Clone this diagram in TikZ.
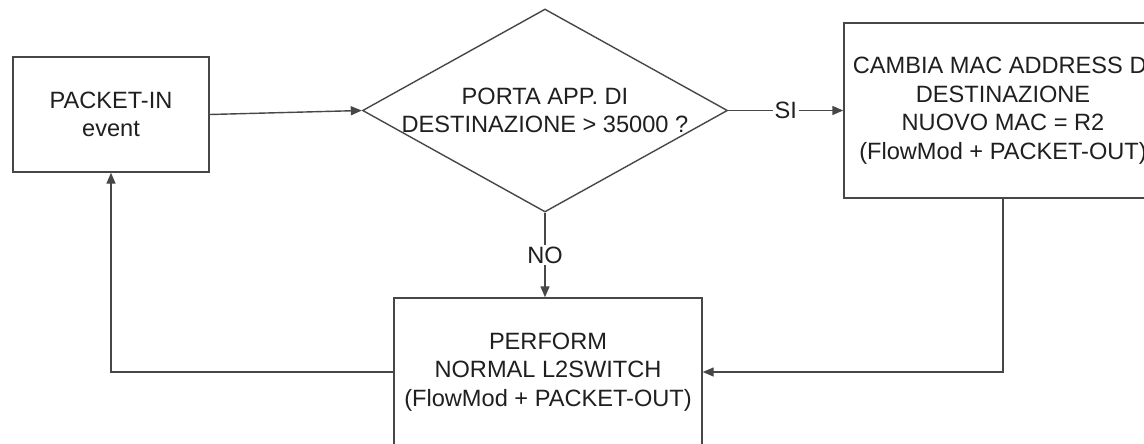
\documentclass[tikz,border=0pt]{standalone}
\usepackage{fontspec}
\setmainfont{Liberation Sans}
\usetikzlibrary{shapes.geometric,arrows.meta}

\begin{document}
\begin{tikzpicture}[x=1pt,y=-1pt,
  line/.style={draw=black!72,line width=1.4pt},
  flow/.style={line,-{Triangle[length=11pt,width=9pt]}},
  stepbox/.style={line,rectangle,fill=white,align=center,inner sep=0pt},
  txt/.style={font=\fontsize{23.6}{28.5}\selectfont,text=black!88},
  tag/.style={txt,fill=white,inner sep=2pt}]

  % page frame; the picture is cut at its edges
  \useasboundingbox (0,0) rectangle (1144,444);
  \clip (0,0) rectangle (1144,444);

  % blocks
  \node[stepbox,txt,minimum width=196pt,minimum height=115pt] (pin) at (111,114.5)
    {PACKET-IN\\event};
  \node[line,diamond,fill=white,inner sep=0pt,minimum width=365pt,minimum height=203pt,
        label={[txt,align=center]center:PORTA APP. DI\\DESTINAZIONE > 35000 ?}] (dec) at (545,110.5) {};
  \node[stepbox,txt,minimum width=318pt,minimum height=175pt] (mac) at (1003,110.5)
    {CAMBIA MAC ADDRESS DI\\DESTINAZIONE\\NUOVO MAC = R2\\(FlowMod + PACKET-OUT)};
  \node[stepbox,txt,minimum width=308pt,minimum height=148pt] (l2) at (548,372)
    {PERFORM\\NORMAL L2SWITCH\\(FlowMod + PACKET-OUT)};

  % connectors
  \draw[flow] (pin.east) -- (dec.west);
  \draw[flow] (dec.east) -- node[tag] {SI} (mac.west);
  \draw[flow] (dec.south) -- node[tag] {NO} (dec.south |- l2.north);
  \draw[flow] (mac.south) |- (l2.east);
  \draw[flow] (l2.west) -| (pin.south);
\end{tikzpicture}
\end{document}
